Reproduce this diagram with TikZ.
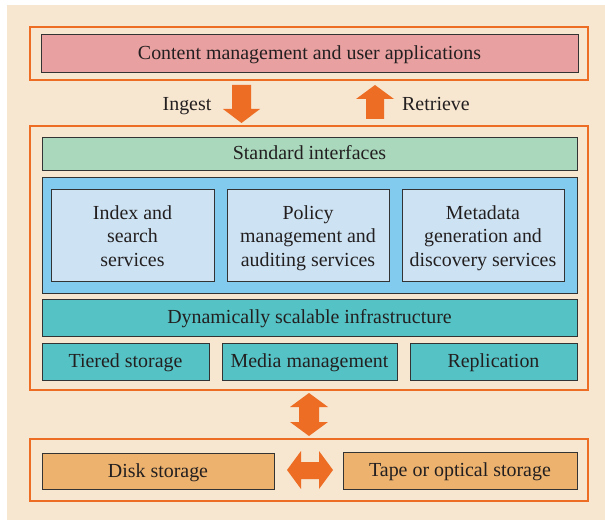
\documentclass[tikz,border=0pt]{standalone}
\usepackage{fontspec}
\setmainfont{Liberation Serif}
\definecolor{bgc}{HTML}{F7E6D0}
\definecolor{orangec}{HTML}{EC6D23}
\definecolor{pinkc}{HTML}{E9A0A0}
\definecolor{greenc}{HTML}{A9D8BC}
\definecolor{bluec}{HTML}{82CAEE}
\definecolor{lbluec}{HTML}{CDE3F3}
\definecolor{tealc}{HTML}{55C3C5}
\definecolor{tanc}{HTML}{ECB26E}
\definecolor{linec}{HTML}{333333}
\definecolor{txtc}{HTML}{231F20}
\tikzset{
  frame/.style={draw=orangec, line width=2.6bp, inner sep=0pt},
  box/.style={draw=linec, line width=0.9bp, inner sep=0pt, align=center,
    font=\fontsize{20}{23.5}\selectfont, text=txtc, text height=14bp, text depth=1.5bp},
  mbox/.style={draw=linec, line width=0.9bp, inner sep=0pt},
  mtext/.style={inner sep=0pt, align=center, font=\fontsize{20}{23.5}\selectfont, text=txtc},
  lbl/.style={inner sep=0pt, font=\fontsize{20}{23.5}\selectfont, text=txtc, text height=14bp, text depth=1.5bp},
  blockarrow/.style={fill=orangec, draw=none}
}
\begin{document}
\begin{tikzpicture}[x=1bp,y=-1bp]
\useasboundingbox (0,0) rectangle (605,520);
\fill[bgc] (7,5) rectangle (605,520);
% frames
\node[frame, minimum width=558bp, minimum height=53bp] (ftop) at (309,53.5) {};
\node[frame, minimum width=558bp, minimum height=264bp] (fmid) at (309,258) {};
\node[frame, minimum width=558bp, minimum height=62bp] (fbot) at (309,470) {};
% top
\node[box, fill=pinkc, minimum width=537bp, minimum height=38bp] (apps) at (309.5,53) {Content management and user applications};
% middle
\node[box, fill=greenc, minimum width=535bp, minimum height=33bp] (std) at (309.5,153.5) {Standard interfaces};
\node[mbox, fill=bluec, minimum width=535bp, minimum height=116bp] (svc) at (309.5,235) {};
\node[mbox, fill=lbluec, minimum width=163bp, minimum height=92bp] (idx) at (132.5,235) {};
\node[mbox, fill=lbluec, minimum width=162bp, minimum height=92bp] (pol) at (308,235) {};
\node[mbox, fill=lbluec, minimum width=162bp, minimum height=92bp] (meta) at (483,235) {};
\node[mtext] (idxt) at ([yshift=-3bp]idx.center) {Index and\\search\\services\vphantom{g}};
\node[mtext] (polt) at ([yshift=-3bp]pol.center) {Policy\\management and\\auditing services};
\node[mtext] (metat) at ([yshift=-3bp]meta.center) {Metadata\\generation and\\discovery services};
\node[box, fill=tealc, minimum width=535bp, minimum height=37bp] (dyn) at (309.5,317.5) {Dynamically scalable infrastructure};
\node[box, fill=tealc, minimum width=167bp, minimum height=37bp] (tier) at (125.5,361.5) {Tiered storage};
\node[box, fill=tealc, minimum width=175bp, minimum height=37bp] (media) at (309.5,361.5) {Media management};
\node[box, fill=tealc, minimum width=167bp, minimum height=37bp] (repl) at (493.5,361.5) {Replication};
% bottom
\node[box, fill=tanc, minimum width=232bp, minimum height=36bp] (disk) at (158,471) {Disk storage};
\node[box, fill=tanc, minimum width=234bp, minimum height=37bp] (tape) at (460,470.5) {Tape or optical storage};
% labels
\node[lbl] (ingest) at (187,104) {Ingest};
\node[lbl, anchor=west] (retrieve) at (402,104) {Retrieve};
% block arrows
\fill[blockarrow] (232,85) -- (251,85) -- (251,109) -- (260,109) -- (241.5,123) -- (223,109) -- (232,109) -- cycle;
\fill[blockarrow] (375,85) -- (394,99) -- (384,99) -- (384,119) -- (366,119) -- (366,99) -- (356,99) -- cycle;
\fill[blockarrow] (309,393) -- (328,407) -- (319,407) -- (319,422) -- (328,422) -- (309,436) -- (290,422) -- (299,422) -- (299,407) -- (290,407) -- cycle;
\fill[blockarrow] (287,470) -- (301,451) -- (301,462) -- (319,462) -- (319,451) -- (333,470) -- (319,489) -- (319,479) -- (301,479) -- (301,489) -- cycle;
\end{tikzpicture}
\end{document}
